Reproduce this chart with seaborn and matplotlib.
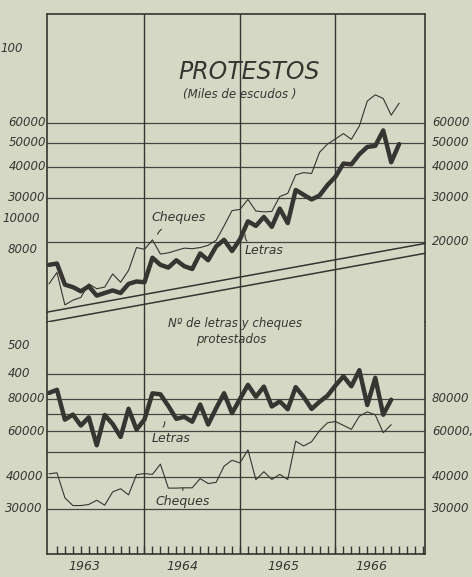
import numpy as np
import pandas as pd
import matplotlib
matplotlib.use("Agg")
import matplotlib.pyplot as plt
import matplotlib.transforms as mtransforms
from matplotlib.ticker import NullLocator
import seaborn as sns

# meses contados desde enero de 1963
meses_monto = list(range(45))
meses_num = list(range(44))

# Protestos, miles de escudos
letras_monto = [16200, 16400, 13500, 13200, 12700, 13300, 12200, 12500, 12800, 12500,
                13600, 13900, 13800, 17300, 16200, 15800, 16900, 16000, 15600, 18000,
                16900, 19200, 20400, 18400, 20500, 24200, 23200, 25200, 23000, 27200,
                23800, 32300, 30900, 29600, 30700, 33800, 36500, 41200, 40900, 44900,
                48000, 48500, 55900, 41700, 49300]
cheques_monto = [13600, 15100, 11200, 11700, 12000, 13600, 13000, 13200, 14900, 13800,
                 15400, 19000, 18700, 20400, 17900, 18100, 18500, 18900, 18800, 19000,
                 19400, 20300, 23200, 26700, 27000, 29600, 26600, 26400, 26500, 30400,
                 31300, 37100, 37900, 37600, 45700, 49300, 51700, 54300, 51500, 58200,
                 73300, 77600, 75000, 64300, 71900]

# Nº de letras y cheques protestados
letras_num = [84400, 86800, 66500, 69600, 63100, 67900, 52900, 69300, 64000, 57000,
              73300, 60900, 66600, 84100, 83400, 75100, 67000, 68200, 65300, 76100,
              63700, 73600, 84200, 70500, 80000, 90700, 81600, 89300, 74800, 78300,
              73000, 88900, 81500, 73200, 78000, 82400, 90200, 97900, 89600, 103400,
              75800, 96600, 69500, 79500]
cheques_num = [41000, 41400, 33100, 30900, 30900, 31200, 32400, 31000, 34900, 35900,
               34000, 40700, 41100, 40800, 44700, 36100, 36100, 36200, 36200, 39300,
               37600, 38000, 43900, 46300, 45200, 50800, 38900, 41800, 39000, 40800,
               39000, 54900, 52600, 54600, 60300, 64700, 65400, 63200, 61000, 68600,
               71300, 69400, 59200, 63600]

grid_monto = [20000, 30000, 40000, 50000, 60000]
grid_num = [30000, 40000, 50000, 60000, 70000, 80000, 100000]

# etiquetas de los ejes (texto, valor)
izq_monto = [("100", 119000, -0.063), ("60000", 60000, -0.003), ("50000", 50000, -0.003),
             ("40000", 40000, -0.003), ("30000", 30000, -0.003),
             ("10000", 24900, -0.019), ("8000", 18600, -0.024)]
der_monto = [("60000", 60000), ("50000", 50000), ("40000", 40000), ("30000", 30000), ("20000", 20000)]
izq_num = [("500", 128400, -0.045), ("400", 100000, -0.045), ("80000", 80000, -0.005),
           ("60000", 60000, -0.005), ("40000", 40000, -0.011), ("30000", 30000, -0.013)]
der_num = [("80000", 80000), ("60000,", 60000), ("40000", 40000), ("30000", 30000)]

anios = ["1963", "1964", "1965", "1966"]
anios_pos = [4.4, 16.8, 29.5, 40.5]

sns.set_theme(style="white")
plt.rcParams["font.family"] = ["DejaVu Sans"]

papel = "#d6d8c6"
tinta = "#363531"

W, H = 472, 577
L, R, T, M, B = 47, 425, 14, 322, 554

fig = plt.figure(figsize=(W / 100, H / 100), dpi=100, facecolor=papel)
ax1 = fig.add_axes([L / W, 1 - M / H, (R - L) / W, (M - T) / H])
ax2 = fig.add_axes([L / W, 1 - B / H, (R - L) / W, (B - M) / H])

for ax, lims, grid in [(ax1, (9570, 163400), grid_monto), (ax2, (20050, 159000), grid_num)]:
    ax.set_facecolor(papel)
    ax.set_yscale("log")
    ax.set_ylim(*lims)
    ax.set_xlim(-0.25, 47.25)
    ax.yaxis.set_major_locator(NullLocator())
    ax.yaxis.set_minor_locator(NullLocator())
    ax.set_xticks([])
    for g in grid:
        ax.axhline(g, color=tinta, lw=0.9, alpha=0.9, zorder=1)
    for m in [12, 24, 36]:
        ax.axvline(m, color=tinta, lw=1.0, zorder=1)
    for s in ax.spines.values():
        s.set_color(tinta)
        s.set_linewidth(1.2)

ax1.spines["bottom"].set_visible(False)
ax2.spines["top"].set_visible(False)

# series
sns.lineplot(x=meses_monto, y=letras_monto, ax=ax1, color=tinta, lw=3.2, zorder=3)
sns.lineplot(x=meses_monto, y=cheques_monto, ax=ax1, color=tinta, lw=0.8, zorder=3)
sns.lineplot(x=meses_num, y=letras_num, ax=ax2, color=tinta, lw=3.2, zorder=3)
sns.lineplot(x=meses_num, y=cheques_num, ax=ax2, color=tinta, lw=0.8, zorder=3)

# franja que separa los dos paneles
ax1.plot([0, 1], [0.032, 0.255], transform=ax1.transAxes, color=tinta, lw=1.1, clip_on=False)
ax1.plot([0, 1], [0.0, 0.223], transform=ax1.transAxes, color=tinta, lw=1.1, clip_on=False)

# etiquetas de los ejes
num_kw = dict(fontsize=8.5, fontstyle="italic", color=tinta, va="center")
for ax, izq, der in [(ax1, izq_monto, der_monto), (ax2, izq_num, der_num)]:
    tr = mtransforms.blended_transform_factory(ax.transAxes, ax.transData)
    for txt, v, x in izq:
        ax.text(x, v, txt, transform=tr, ha="right", **num_kw)
    for txt, v in der:
        ax.text(1.018, v, txt, transform=tr, ha="left", **num_kw)

# marcas de los meses
ax2.set_xticks(range(1, 48), minor=True)
ax2.tick_params(axis="x", which="minor", direction="in", length=6, width=1.0,
                color=tinta, bottom=True)
tr2 = mtransforms.blended_transform_factory(ax2.transData, ax2.transAxes)
for a, x in zip(anios, anios_pos):
    ax2.text(x, -0.056, a, transform=tr2, ha="center", va="center",
             fontsize=9, fontstyle="italic", color=tinta)


def fp(x, y):
    return (x / W, 1 - y / H)


txt_kw = dict(fontstyle="italic", color=tinta, ha="center", va="center")
fig.text(*fp(249, 72), "PROTESTOS", fontsize=17, **txt_kw)
fig.text(*fp(240, 95), "(Miles de escudos )", fontsize=8.5, **txt_kw)
fig.text(*fp(179, 218), "Cheques", fontsize=9, **txt_kw)
fig.text(*fp(264, 251), "Letras", fontsize=9, **txt_kw)
fig.text(*fp(235, 324), "Nº de letras y cheques", fontsize=8.5, **txt_kw)
fig.text(*fp(231, 340), "protestados", fontsize=8.5, **txt_kw)
fig.text(*fp(171, 438), "Letras", fontsize=9, **txt_kw)
fig.text(*fp(183, 502), "Cheques", fontsize=9, **txt_kw)

# pequeños trazos que unen los rotulos con las curvas
for (x0, y0), (x1, y1), rad in [((164, 228), (157, 237), 0.3),
                                ((249, 243), (246, 232), -0.4),
                                ((161, 429), (164, 419), 0.4),
                                ((184, 493), (185, 486), -0.5)]:
    fig.add_artist(matplotlib.patches.FancyArrowPatch(
        (x0, H - y0), (x1, H - y1), transform=None,
        arrowstyle="-", connectionstyle=f"arc3,rad={rad}", color=tinta, lw=0.8))

fig.savefig("out.png", dpi=100, facecolor=papel)
